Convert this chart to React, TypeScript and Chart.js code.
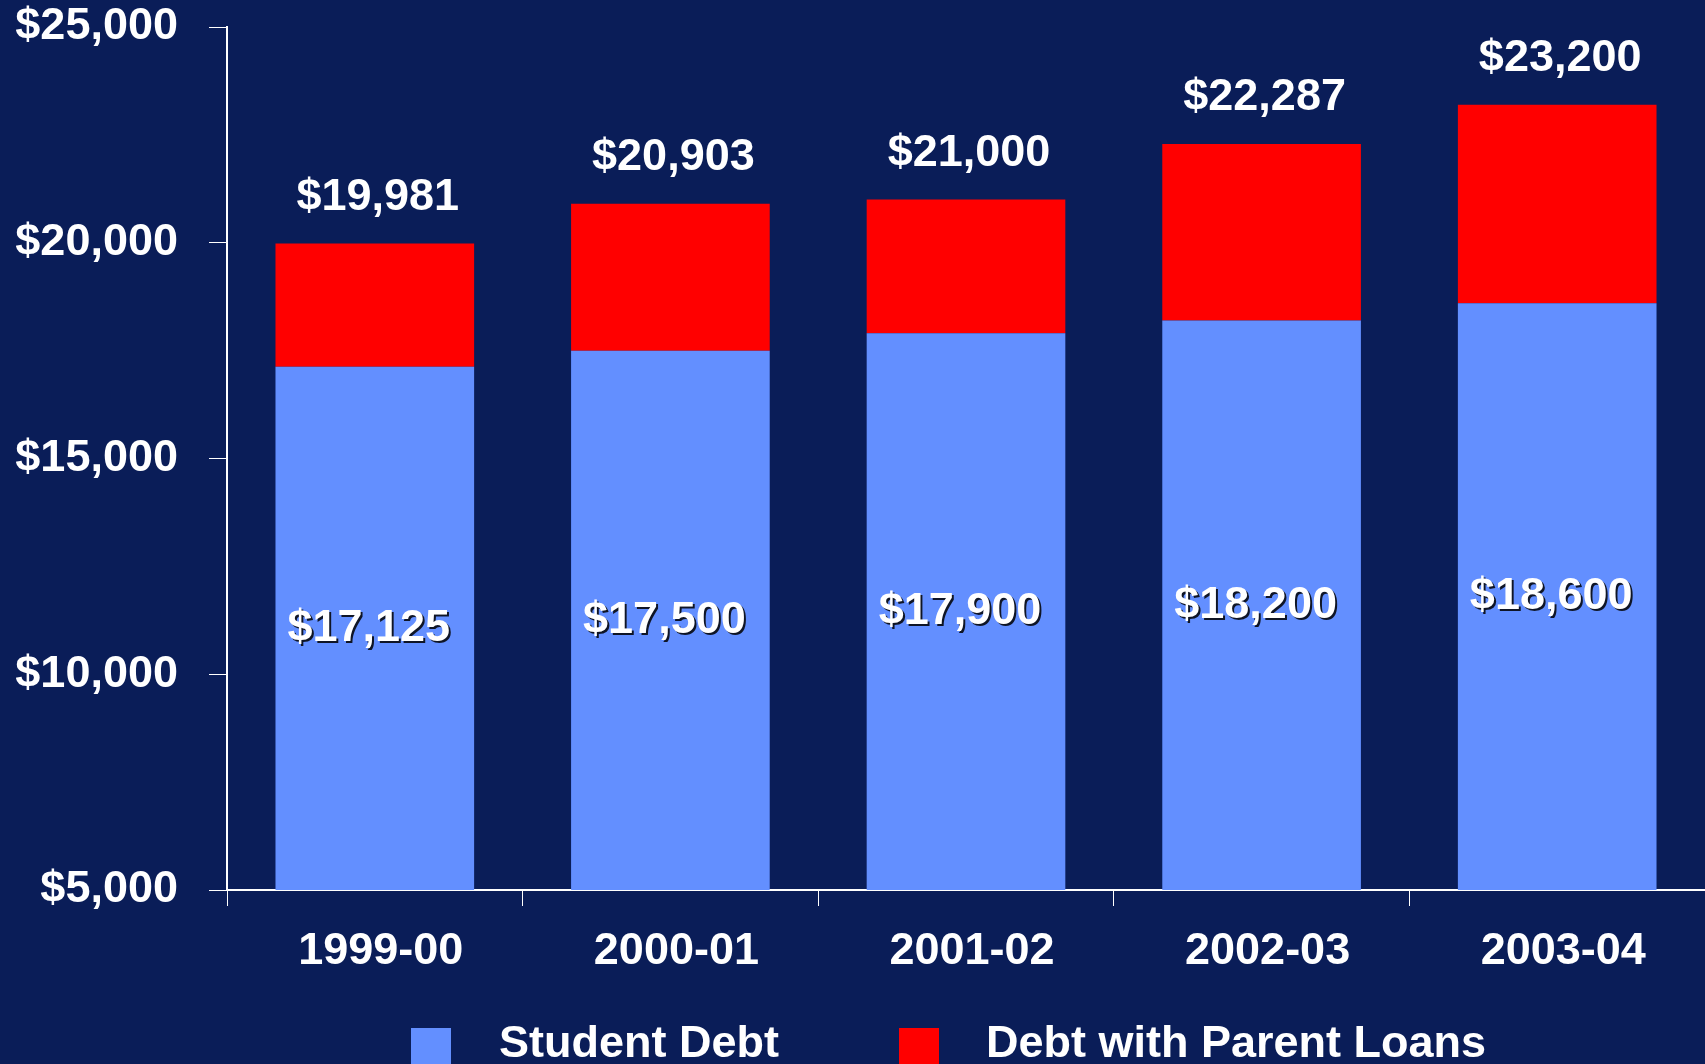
import React, { useEffect, useRef } from "react";
import { Chart, registerables } from "chart.js";

Chart.register(...registerables);

const categories = ["1999-00", "2000-01", "2001-02", "2002-03", "2003-04"];
const studentDebt = [17125, 17500, 17900, 18200, 18600];
const totalDebt = [19981, 20903, 21000, 22287, 23200];
const parentPart = totalDebt.map((t, i) => t - studentDebt[i]);
const yTicks = [5000, 10000, 15000, 20000, 25000];
const seriesNames = ["Student Debt", "Debt with Parent Loans"];

const BG = "#0a1d58";
const BLUE = "#638fff";
const RED = "#ff0000";
const FONT = "'Liberation Sans', Arial, sans-serif";

const fmt = (v: number) => "$" + v.toLocaleString("en-US");

const labelPlugin = {
  id: "valueLabels",
  afterDatasetsDraw(chart: any) {
    const ctx = chart.ctx;
    const m0 = chart.getDatasetMeta(0);
    const m1 = chart.getDatasetMeta(1);
    const bottom = chart.chartArea.bottom;
    ctx.save();
    ctx.font = `bold 45px ${FONT}`;
    ctx.textAlign = "center";
    ctx.textBaseline = "middle";
    m0.data.forEach((bar: any, i: number) => {
      const mid = (bar.y + Math.min(bar.base, bottom)) / 2;
      ctx.fillStyle = "rgba(0,0,0,0.85)";
      ctx.fillText(fmt(studentDebt[i]), bar.x - 4, mid + 2);
      ctx.fillStyle = "#ffffff";
      ctx.fillText(fmt(studentDebt[i]), bar.x - 6, mid);
    });
    m1.data.forEach((bar: any, i: number) => {
      ctx.fillStyle = "#ffffff";
      ctx.fillText(fmt(totalDebt[i]), bar.x + 3, bar.y - 46);
    });
    ctx.restore();
  },
  afterDraw(chart: any) {
    const ctx = chart.ctx;
    const b = chart.chartArea.bottom;
    ctx.save();
    ctx.font = `bold 45px ${FONT}`;
    ctx.textAlign = "left";
    ctx.textBaseline = "alphabetic";
    const items = [
      { color: BLUE, boxX: 411, textX: 499, text: seriesNames[0] },
      { color: RED, boxX: 899, textX: 986, text: seriesNames[1] },
    ];
    items.forEach((it) => {
      ctx.fillStyle = it.color;
      ctx.fillRect(it.boxX, b + 138, 40, 40);
      ctx.fillStyle = "#ffffff";
      ctx.fillText(it.text, it.textX, b + 167);
    });
    ctx.restore();
  },
};

export default function App() {
  const ref = useRef<HTMLCanvasElement | null>(null);
  useEffect(() => {
    if (!ref.current) return;
    const chart = new Chart(ref.current, {
      type: "bar",
      data: {
        labels: categories,
        datasets: [
          {
            label: seriesNames[0],
            data: studentDebt,
            backgroundColor: BLUE,
            borderWidth: 0,
            categoryPercentage: 1,
            barPercentage: 0.672,
          },
          {
            label: seriesNames[1],
            data: parentPart,
            backgroundColor: RED,
            borderWidth: 0,
            categoryPercentage: 1,
            barPercentage: 0.672,
          },
        ],
      },
      options: {
        responsive: true,
        maintainAspectRatio: false,
        animation: false,
        layout: { padding: { left: 0, right: -3, top: 0, bottom: 86 } },
        plugins: {
          legend: { display: false },
          tooltip: { enabled: false },
        },
        scales: {
          x: {
            stacked: true,
            grid: {
              display: true,
              drawOnChartArea: false,
              drawTicks: true,
              tickLength: 16,
              tickColor: "#ffffff",
              offset: true,
            },
            border: { display: true, color: "#ffffff", width: 2 },
            ticks: {
              color: "#ffffff",
              font: { family: FONT, size: 45, weight: "bold" },
              padding: 19,
              labelOffset: 6,
              maxRotation: 0,
            },
            afterFit: (axis: any) => {
              axis.height = 88;
              axis.paddingLeft = 0;
              axis.paddingRight = 0;
            },
          },
          y: {
            stacked: true,
            min: 5000,
            max: 25000,
            grid: {
              display: true,
              drawOnChartArea: false,
              drawTicks: true,
              tickLength: 18,
              tickColor: "#ffffff",
            },
            border: { display: true, color: "#ffffff", width: 2 },
            afterBuildTicks: (axis: any) => {
              axis.ticks = yTicks.map((v) => ({ value: v }));
            },
            afterFit: (axis: any) => {
              axis.width = 227;
              axis.paddingTop = 27;
              axis.paddingBottom = 0;
            },
            ticks: {
              color: "#ffffff",
              font: { family: FONT, size: 45, weight: "bold" },
              padding: 31,
              callback: (v: any) => fmt(Number(v)),
            },
          },
        },
      },
      plugins: [labelPlugin],
    } as any);
    return () => chart.destroy();
  }, []);
  return (
    <div
      style={{
        position: "fixed",
        left: 0,
        top: 0,
        width: 1705,
        height: 1064,
        background: BG,
        overflow: "hidden",
      }}
    >
      <canvas ref={ref} />
    </div>
  );
}
